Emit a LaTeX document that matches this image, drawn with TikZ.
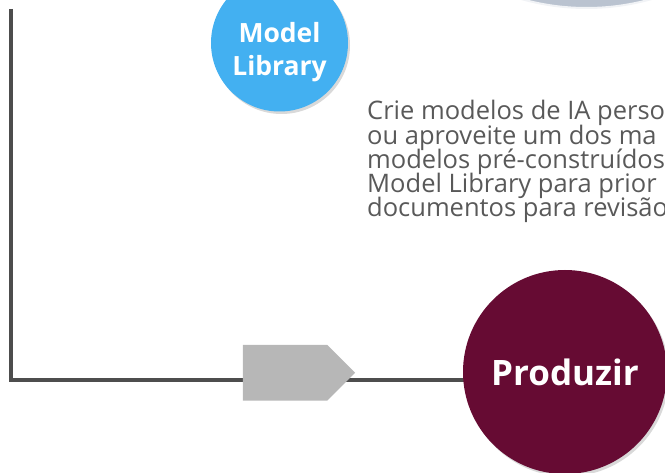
\documentclass[tikz,border=0pt]{standalone}
\usepackage{fontspec}
\setmainfont{Open Sans}
\usepackage{xcolor}
\definecolor{skyblue}{RGB}{67,176,241}
\definecolor{wine}{RGB}{102,11,51}
\definecolor{slate}{RGB}{186,195,208}
\definecolor{arrowgray}{RGB}{183,183,183}
\definecolor{linegray}{RGB}{77,77,77}
\definecolor{textgray}{RGB}{89,89,89}
\newcommand\descfont{\fontsize{25.5}{24.3}\selectfont\lineskiplimit=-20pt\relax}
\usepackage{tikz}
\usetikzlibrary{shapes.symbols}
\usetikzlibrary{shadows}
\usetikzlibrary{backgrounds}

\begin{document}
\begin{tikzpicture}[x=1pt,y=1pt,
  bubble/.style={shape=circle,inner sep=0pt,drop shadow={opacity=0.3,shadow xshift=2pt,shadow yshift=-2.5pt}},
  bubbletext/.style={text=white,align=center,inner sep=0pt}]
\useasboundingbox (0,0) rectangle (665,472);
\clip (0,0) rectangle (665,472);
\node (topdisc) at (586.5,704) [shape=circle,minimum size=480pt,fill=slate,draw=white!80!slate,line width=2pt]{};
\node (modellib) at (279.5,429) [bubble,minimum size=137pt,fill=skyblue]{};
\node (modellibtext) at ([yshift=-9pt]modellib.center) [bubbletext,font=\bfseries\fontsize{26.5}{33}\selectfont]{Model\\Library};
\node (seta) at (285,99.2) [shape=signal,signal to=east,minimum width=112.3pt,minimum height=55.7pt,inner sep=0pt,fill=arrowgray]{};
\node (produzir) at (565,100) [bubble,minimum size=204pt,fill=wine,text=white,font=\bfseries\fontsize{35}{38}\selectfont]{Produzir};
\node (descricao) at (367,255) [anchor=base west,inner sep=0pt,align=left,text=textgray,font=\descfont]
{Crie modelos de IA perso\\ou aproveite um dos ma\\modelos pré-construídos\\Model Library para prior\\documentos para revisão};
% linha de retorno
\coordinate (linetop) at (10.5,463);
\coordinate (lineknee) at (10.5,92);
\begin{pgfonlayer}{background}
\draw[linegray,line width=4pt] (linetop) -- (lineknee) -- (lineknee -| produzir.center);
\end{pgfonlayer}
\end{tikzpicture}
\end{document}
